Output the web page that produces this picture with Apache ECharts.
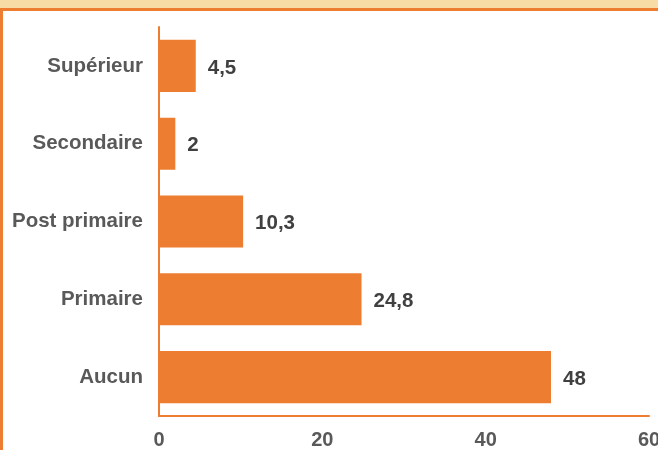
<!DOCTYPE html>
<html>
<head>
<meta charset="utf-8">
<script src="https://cdn.jsdelivr.net/npm/echarts@6/dist/echarts.min.js"></script>
<style>
html, body { margin: 0; padding: 0; background: #fff; }
#chart { width: 658px; height: 450px; }
</style>
</head>
<body>
<div id="chart"></div>
<script>
// niveau d'instruction (%)
var categories = ['Aucun', 'Primaire', 'Post primaire', 'Secondaire', 'Supérieur'];
var values = [48, 24.8, 10.3, 2, 4.5];
var xTicks = [0, 20, 40, 60];

var orange = '#ED7D31';

var chart = echarts.init(document.getElementById('chart'));
var option = {
    animation: false,
    textStyle: { fontFamily: 'Liberation Sans, Arial, sans-serif' },
    grid: { left: 159, right: 9, top: 27, bottom: 34, outerBoundsMode: 'none' },
    // cadre : bandeau en haut + bordure orange
    graphic: [
        { type: 'rect', shape: { x: 0, y: 0, width: 658, height: 8 }, style: { fill: '#F8DCA6' } },
        { type: 'rect', shape: { x: 0, y: 8, width: 658, height: 3 }, style: { fill: orange } },
        { type: 'rect', shape: { x: 0, y: 8, width: 3, height: 442 }, style: { fill: orange } }
    ],
    xAxis: {
        type: 'value',
        min: xTicks[0],
        max: xTicks[xTicks.length - 1],
        interval: 20,
        axisLine: { show: true, lineStyle: { color: orange, width: 2 } },
        axisTick: { show: false },
        splitLine: { show: false },
        axisLabel: { color: '#595959', fontSize: 20, fontWeight: 'bold', margin: 14 }
    },
    yAxis: {
        type: 'category',
        data: categories,
        axisLine: { show: true, lineStyle: { color: orange, width: 2 } },
        axisTick: { show: false },
        axisLabel: { color: '#595959', fontSize: 20.5, fontWeight: 'bold', margin: 16, padding: [4, 0, 0, 0] }
    },
    series: [{
        type: 'bar',
        data: values,
        barCategoryGap: '33%',
        itemStyle: { color: orange },
        label: {
            show: true,
            position: 'right',
            distance: 12,
            offset: [0, 2],
            color: '#404040',
            fontSize: 20.5,
            fontWeight: 'bold',
            formatter: function(p) { return String(p.value).replace('.', ','); }
        }
    }]
};
chart.setOption(option);
</script>
</body>
</html>
